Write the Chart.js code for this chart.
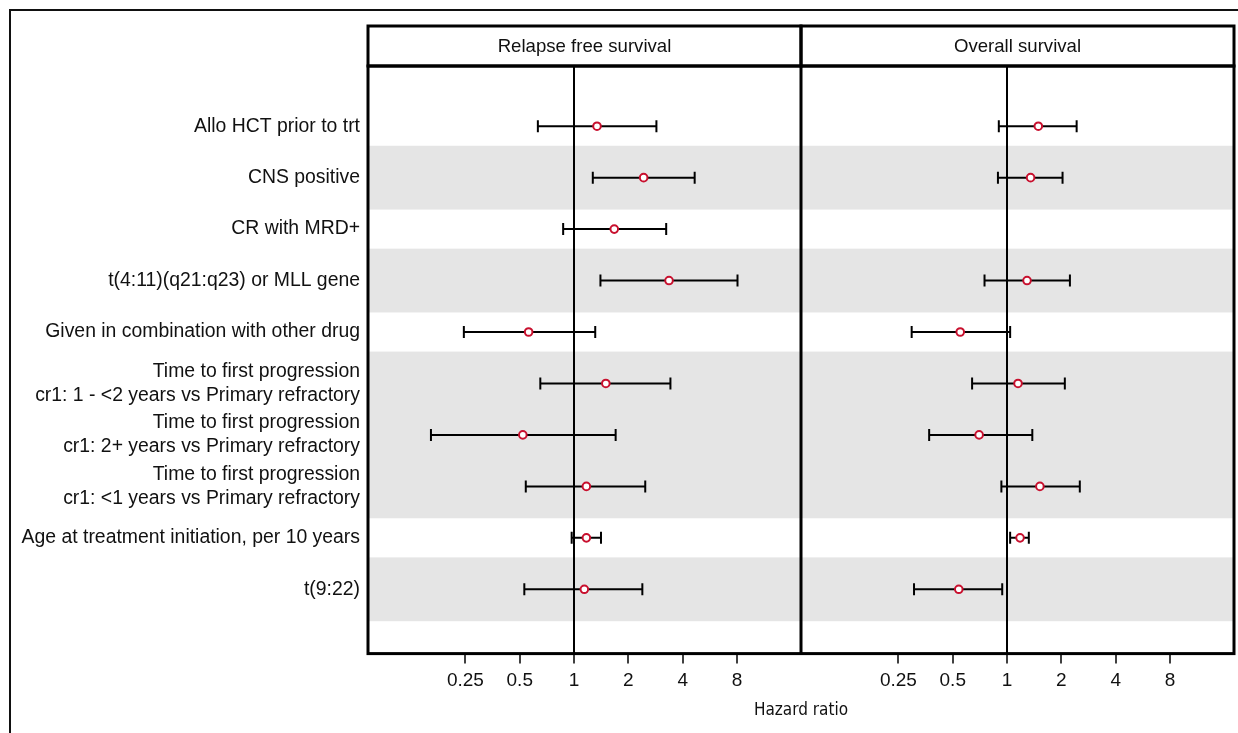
<!DOCTYPE html>
<html lang="en">
  <head>
    <meta charset="UTF-8" />
    <title>Hazard ratio forest plot</title>
    <style>
      html,
      body {
        margin: 0;
        padding: 0;
        background: #fff;
        overflow: hidden;
      }
      .frame {
        position: absolute;
        left: 9px;
        top: 9px;
        width: 1260px;
        height: 760px;
        border: 2px solid #111;
      }
      #forest {
        position: absolute;
        left: 0;
        top: 0;
      }
    </style>
  </head>
  <body>
    <div class="frame"></div>
    <canvas id="forest" width="1238" height="733"></canvas>
    <script src="https://cdn.jsdelivr.net/npm/chart.js@4.4.0/dist/chart.umd.min.js"></script>
    <script>
      // row labels, top to bottom
      const rowLabels = [
        "Allo HCT prior to trt",
        "CNS positive",
        "CR with MRD+",
        "t(4:11)(q21:q23) or MLL gene",
        "Given in combination with other drug",
        ["Time to first progression", "cr1: 1 - <2 years vs Primary refractory"],
        ["Time to first progression", "cr1: 2+ years vs Primary refractory"],
        ["Time to first progression", "cr1: <1 years vs Primary refractory"],
        "Age at treatment initiation, per 10 years",
        "t(9:22)",
      ];

      // relapse free survival
      const rfsHR = [1.34, 2.43, 1.67, 3.36, 0.56, 1.5, 0.52, 1.17, 1.17, 1.14];
      const rfsLow = [0.63, 1.27, 0.87, 1.4, 0.245, 0.65, 0.161, 0.54, 0.97, 0.53];
      const rfsHigh = [2.86, 4.66, 3.24, 8.05, 1.31, 3.42, 1.7, 2.48, 1.41, 2.39];

      // overall survival (no estimate for CR with MRD+)
      const osHR = [1.49, 1.35, null, 1.29, 0.55, 1.15, 0.7, 1.52, 1.18, 0.54];
      const osLow = [0.9, 0.89, null, 0.75, 0.296, 0.64, 0.37, 0.93, 1.04, 0.305];
      const osHigh = [2.43, 2.03, null, 2.23, 1.04, 2.09, 1.38, 2.53, 1.32, 0.94];

      const hrTicks = [0.25, 0.5, 1, 2, 4, 8];
      const shadedRows = [1, 3, 5, 6, 7, 9];

      const xMin = 0.0721;
      const xMax = 18.1;
      const bandHalf = 0.62;
      const sans = "'Liberation Sans', Arial, sans-serif";
      const narrow = "'Liberation Sans Narrow', 'DejaVu Sans Condensed', sans-serif";

      function panelSets(axisId, hr, low, high) {
        const sets = [
          {
            label: axisId + " estimate",
            xAxisID: axisId,
            yAxisID: "y",
            data: hr
              .map((v, i) => ({ x: v, y: i }))
              .filter((p) => p.x != null),
            pointRadius: 3.8,
            pointBorderWidth: 2,
            pointBackgroundColor: "#fff",
            pointBorderColor: "#c8102e",
            order: 0,
          },
        ];
        low.forEach((v, i) => {
          if (v == null) return;
          sets.push({
            label: axisId + " CI " + i,
            xAxisID: axisId,
            yAxisID: "y",
            data: [
              { x: v, y: i },
              { x: high[i], y: i },
            ],
            showLine: true,
            borderColor: "#000",
            borderWidth: 2,
            pointStyle: "line",
            pointRotation: 90,
            pointRadius: 6,
            pointBorderWidth: 2,
            pointBorderColor: "#000",
            order: 1,
          });
        });
        return sets;
      }

      function hrAxis() {
        return {
          type: "logarithmic",
          position: "bottom",
          stack: "hr",
          bounds: "data",
          min: xMin,
          max: xMax,
          afterBuildTicks: (s) => {
            s.ticks = hrTicks.map((v) => ({ value: v }));
          },
          afterFit: (s) => {
            s.height = 44;
          },
          ticks: {
            callback: (v) => String(v),
            autoSkip: false,
            maxRotation: 0,
            padding: 6,
            color: "#111",
            font: { family: sans, size: 19 },
          },
          grid: {
            color: (c) => (c.tick && c.tick.value === 1 ? "#000" : "rgba(0,0,0,0)"),
            lineWidth: 2,
            tickColor: "#000",
            tickWidth: 1.5,
            tickLength: 10,
          },
          border: { display: false },
        };
      }

      function headAxis(text) {
        return {
          type: "linear",
          position: "top",
          stack: "head",
          afterFit: (s) => {
            s.height = 40;
          },
          ticks: { display: false },
          grid: { display: false, drawTicks: false },
          border: { display: false },
          title: {
            display: true,
            text: text,
            color: "#111",
            font: { family: sans, size: 18.6 },
            padding: { top: 10, bottom: 6 },
          },
        };
      }

      // grey row bands under the grid, panel borders on top
      const forestFrame = {
        id: "forestFrame",
        beforeDraw(chart) {
          const { ctx, chartArea: a, scales } = chart;
          const y = scales.y;
          ctx.save();
          ctx.fillStyle = "#e5e5e5";
          shadedRows.forEach((k) => {
            const top = y.getPixelForValue(k - bandHalf);
            const bot = y.getPixelForValue(k + bandHalf);
            ctx.fillRect(a.left, top, a.right - a.left, bot - top);
          });
          ctx.restore();
        },
        afterDraw(chart) {
          const { ctx, chartArea: a, scales } = chart;
          ctx.save();
          ctx.strokeStyle = "#000";
          ctx.lineWidth = 3;
          ctx.strokeRect(a.left, a.top, a.right - a.left, a.bottom - a.top);
          ["rfsHead", "osHead"].forEach((id) => {
            const s = scales[id];
            ctx.strokeRect(s.left, s.top, s.width, s.height);
          });
          ctx.beginPath();
          ctx.moveTo(scales.os.left, a.top);
          ctx.lineTo(scales.os.left, a.bottom);
          ctx.stroke();
          ctx.restore();
        },
      };

      new Chart(document.getElementById("forest"), {
        type: "scatter",
        data: {
          datasets: [
            ...panelSets("rfs", rfsHR, rfsLow, rfsHigh),
            ...panelSets("os", osHR, osLow, osHigh),
          ],
        },
        options: {
          responsive: false,
          animation: false,
          events: [],
          layout: {
            autoPadding: false,
            padding: { top: 26, right: 4, bottom: 9, left: 0 },
          },
          plugins: {
            legend: { display: false },
            tooltip: { enabled: false },
            title: {
              display: true,
              text: "Hazard ratio",
              position: "bottom",
              fullSize: false,
              color: "#111",
              font: { family: narrow, size: 17, weight: "normal" },
              padding: { top: 3, bottom: 3 },
            },
          },
          scales: {
            y: {
              type: "linear",
              position: "left",
              reverse: true,
              bounds: "data",
              min: -1.17,
              max: 10.25,
              afterBuildTicks: (s) => {
                s.ticks = rowLabels.map((_, i) => ({ value: i }));
              },
              afterFit: (s) => {
                s.width = 368;
              },
              ticks: {
                callback: (v) => rowLabels[v],
                autoSkip: false,
                padding: 8,
                color: "#111",
                font: { family: sans, size: 19.4, lineHeight: 1.24 },
              },
              grid: { display: false, drawTicks: false },
              border: { display: false },
            },
            rfs: hrAxis(),
            os: hrAxis(),
            // top boxes are laid out in reverse order
            osHead: headAxis("Overall survival"),
            rfsHead: headAxis("Relapse free survival"),
          },
        },
        plugins: [forestFrame],
      });
    </script>
  </body>
</html>
